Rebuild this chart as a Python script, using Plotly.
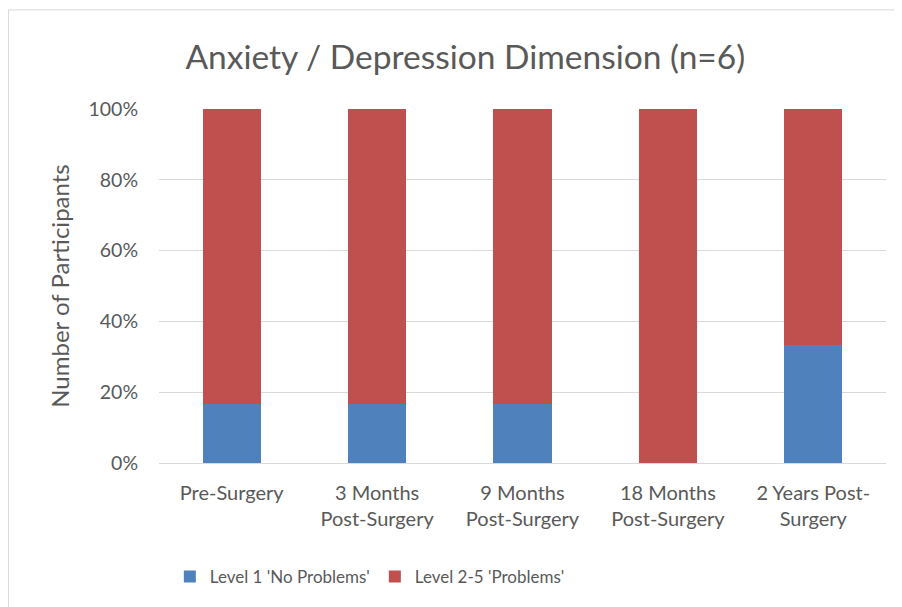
import plotly.graph_objects as go

categories = ["Pre-Surgery", "3 Months<br>Post-Surgery", "9 Months<br>Post-Surgery",
              "18 Months<br>Post-Surgery", "2 Years Post-<br>Surgery"]
level1_counts = [1, 1, 1, 0, 2]
level25_counts = [5, 5, 5, 6, 4]
series_names = ["Level 1 'No Problems'", "Level 2-5 'Problems'"]
colors = ["#4F81BD", "#C0504D"]

totals = [a + b for a, b in zip(level1_counts, level25_counts)]
l1 = [a / t for a, t in zip(level1_counts, totals)]
l25 = [b / t for b, t in zip(level25_counts, totals)]

FONT = "Lato, Open Sans, sans-serif"

fig = go.Figure()
fig.add_trace(go.Bar(x=categories, y=l1, name=series_names[0], marker_color=colors[0],
                     marker_line_width=0))
fig.add_trace(go.Bar(x=categories, y=l25, name=series_names[1], marker_color=colors[1],
                     marker_line_width=0))

fig.update_layout(
    barmode="stack",
    bargap=0.6,
    width=902, height=607,
    paper_bgcolor="white", plot_bgcolor="white",
    font=dict(family=FONT, color="#595959", size=18),
    title=dict(text="Anxiety / Depression Dimension (n=6)", x=0.507, xanchor="center",
               y=0.918, yanchor="middle", font=dict(size=33.5, color="#595959")),
    margin=dict(l=151, r=24, t=101, b=152),
    xaxis=dict(showline=True, linecolor="#D9D9D9", linewidth=1, ticks="",
               tickfont=dict(size=20), showgrid=False, ticklabelstandoff=12),
    yaxis=dict(range=[0, 1], tickformat=".0%", dtick=0.2, showgrid=True,
               gridcolor="#D9D9D9", gridwidth=1, zeroline=False, ticks="",
               ticksuffix="    ",
               title=dict(text="Number of Participants", font=dict(size=24), standoff=12),
               tickfont=dict(size=19.5)),
    legend=dict(orientation="h", x=0.29, xanchor="center", y=-0.322, yanchor="middle",
                font=dict(size=17), traceorder="normal"),
    shapes=[dict(type="rect", xref="paper", yref="paper", x0=-0.207, x1=1.1, y0=-0.5, y1=1.28,
                 line=dict(color="#D9D9D9", width=1), fillcolor="rgba(0,0,0,0)")],
)
fig.write_html("out.html")
